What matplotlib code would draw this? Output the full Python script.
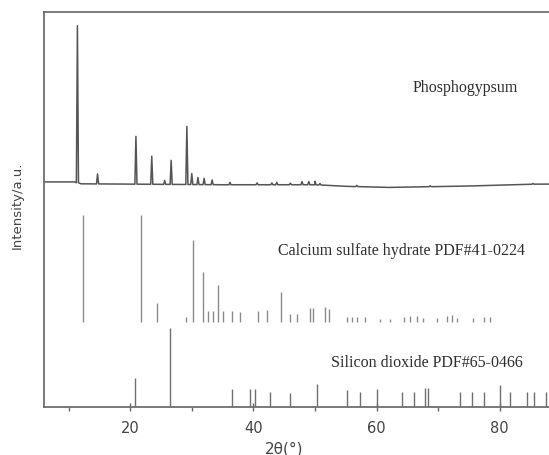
import numpy as np
import matplotlib
matplotlib.use("Agg")
import matplotlib.pyplot as plt
from matplotlib.ticker import MultipleLocator

# --- Phosphogypsum measured pattern (relative intensity, %) ---
pg_peak_2theta = [11.43, 14.7, 20.93, 23.5, 25.6, 26.65, 29.2, 30.0, 31.0, 32.0,
                  33.3, 36.2, 40.6, 43.0, 43.8, 46.0, 47.9, 49.0, 50.0, 50.8,
                  56.8, 68.7, 85.4]
pg_peak_int = [100, 6.4, 30.4, 17.9, 2.5, 15.3, 37.0, 7.0, 4.5, 4.0,
               3.0, 1.5, 1.2, 1.2, 1.5, 1.0, 2.0, 2.0, 2.2, 1.0,
               0.8, 0.6, 0.5]
pg_bg_2theta = [6.0, 11.0, 12.0, 20.0, 35.0, 50.0, 55.0, 62.0, 75.0, 86.0, 90.0]
pg_bg_int = [0.6, 0.6, -0.6, -0.8, -1.2, -1.2, -2.2, -2.9, -2.0, -0.8, -0.8]

# --- Calcium sulfate hydrate PDF#41-0224 (relative intensity, %) ---
csh_2theta = [12.3, 21.7, 24.4, 29.0, 30.2, 31.9, 32.7, 33.5, 34.2, 35.1,
              36.5, 37.9, 40.7, 42.2, 44.5, 46.0, 47.0, 49.2, 49.7, 51.7,
              52.3, 55.2, 56.0, 56.8, 58.1, 60.6, 62.2, 64.4, 65.5, 66.5,
              67.6, 69.8, 71.4, 72.2, 73.0, 75.7, 77.4, 78.4]
csh_int = [100, 100, 18, 5, 77, 47, 10, 10, 35, 10,
           10, 9, 10, 11, 28, 8, 8, 13, 13, 14,
           12, 5, 5, 5, 5, 3, 3, 5, 6, 6,
           4, 4, 6, 7, 4, 4, 5, 5]

# --- Silicon dioxide PDF#65-0466 (relative intensity, %) ---
sio2_2theta = [20.7, 26.5, 36.5, 39.5, 40.3, 42.7, 45.9, 50.3, 55.2, 57.3,
               60.0, 64.1, 66.0, 67.9, 68.4, 73.6, 75.5, 77.4, 80.1, 81.7,
               84.4, 85.5, 87.5]
sio2_int = [37, 100, 23, 23, 23, 20, 18, 30, 22, 20,
            24, 20, 20, 25, 25, 19, 19, 19, 28, 20,
            20, 20, 20]

pattern_labels = ["Phosphogypsum",
                  "Calcium sulfate hydrate PDF#41-0224",
                  "Silicon dioxide PDF#65-0466"]
x_ticks = [20, 40, 60, 80]

# vertical stacking (offset, scale) of each pattern in arbitrary units
PG_OFF, PG_SCALE = 56.8, 0.397
CSH_OFF, CSH_SCALE = 21.6, 0.27
SIO2_OFF, SIO2_SCALE = 0.0, 0.20

W, H = 549, 455
fig = plt.figure(figsize=(W / 100, H / 100), dpi=100)
ax = fig.add_axes([0.0801, 0.1044, 0.9424, 0.8692])
ax.set_xlim(6, 90)
ax.set_ylim(0, 100)

# phosphogypsum profile: narrow triangular peaks on a piecewise baseline
hw = 0.17
xs = list(pg_bg_2theta)
ys = list(pg_bg_int)
for p, h in zip(pg_peak_2theta, pg_peak_int):
    b = float(np.interp(p, pg_bg_2theta, pg_bg_int))
    xs += [p - hw, p, p + hw]
    ys += [b, b + h, b]
order = np.argsort(xs, kind="stable")
xs = np.asarray(xs)[order]
ys = np.asarray(ys)[order]
ax.plot(xs, PG_OFF + PG_SCALE * ys, color="#555555", lw=1.1)

# reference stick patterns
ax.vlines(csh_2theta, CSH_OFF, CSH_OFF + CSH_SCALE * np.asarray(csh_int),
          color="#8a8a8a", lw=1.0)
ax.vlines(sio2_2theta, SIO2_OFF, SIO2_OFF + SIO2_SCALE * np.asarray(sio2_int),
          color="#707070", lw=1.0)

# pattern names, placed in pixel coordinates (y measured from the top)
serif = ["Liberation Serif", "DejaVu Serif"]
label_xy = [(465, 88), (401, 251), (427, 363)]
for name, (px, py) in zip(pattern_labels, label_xy):
    fig.text(px / W, 1 - py / H, name, fontsize=11.5, family=serif,
             color="#2e2e2e", ha="center", va="center")

ax.set_xticks(x_ticks)
ax.xaxis.set_minor_locator(MultipleLocator(10))
ax.tick_params(axis="x", which="major", direction="inout", length=6, width=1.0,
               color="#666666", labelsize=10.5, labelcolor="#444444", pad=7)
ax.tick_params(axis="x", which="minor", direction="out", length=3, width=1.0,
               color="#666666")
ax.set_yticks([])
for side in ["left", "top", "bottom", "right"]:
    ax.spines[side].set_color("#6e6e6e")
    ax.spines[side].set_linewidth(1.3)

ax.set_xlabel("2θ(°)", fontsize=11, color="#444444")
ax.xaxis.set_label_coords(0.464, -0.105)
ax.xaxis.label.set_va("center")
ax.set_ylabel("Intensity/a.u.", fontsize=9.5, color="#444444")
ax.yaxis.set_label_coords(-0.052, 0.512)
ax.yaxis.label.set_va("center")

fig.savefig("out.png", dpi=100)
